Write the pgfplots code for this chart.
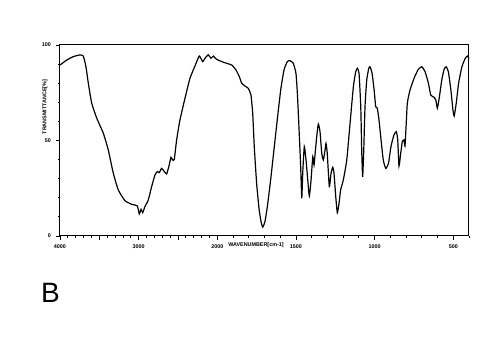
\documentclass[border=0pt]{standalone}
\usepackage{fontspec}
\setmainfont{Liberation Sans}
\usepackage{pgfplots}
\pgfplotsset{compat=1.18}
\begin{document}
\begin{tikzpicture}[x=0.5pt,y=0.5pt]
\path[use as bounding box] (0,0) rectangle (500,353);
\begin{axis}[
  at={(30pt,58.5pt)}, anchor=south west,
  scale only axis, width=204.5pt, height=95.5pt,
  x coord trafo/.code={\pgfmathparse{#1>=2000 ? 1000+(#1-2000)/2 : #1-1000}},
  x dir=reverse,
  xmin=400, xmax=4000, ymin=0, ymax=100,
  xtick={4000,3000,2000,1500,1000,500},
  xticklabels={4000,3000,2000,1500,1000,500},
  extra x ticks={3500,2500}, extra x tick labels={},
  minor xtick={400,500,...,4000},
  ytick={0,50,100}, yticklabels={0,50,100},
  minor ytick={10,20,30,40,60,70,80,90},
  tick pos=left,
  tick align=outside,
  major tick length=2pt, minor tick length=1pt,
  every tick/.style={black, line width=0.4pt},
  axis line style={line width=0.5pt},
  /pgf/number format/assume math mode=true,
  tick label style={font=\fontsize{2.7}{3}\selectfont\bfseries},
  xticklabel style={yshift=1pt},
  yticklabel style={xshift=1pt},
  clip=false,
]
\addplot[black, line width=0.6pt, smooth, tension=0.3] coordinates {
(4000,89.5)(3915,92.1)(3831,93.9)(3746,94.8)(3704,94.2)(3670,88.6)(3640,80)
(3597,69.6)(3534,61.8)(3450,53.9)(3386,45)(3323,33)(3259,24.1)(3174,18.5)
(3089,16.6)(3017,15.7)(2992,11.5)(2970,14)(2949,12.2)(2920,15.4)(2878,18.8)
(2835,25.8)(2793,31.9)(2763,33.7)(2738,33.2)(2708,35.4)(2678,34)(2644,32.5)
(2611,37.2)(2589,41.2)(2568,39.8)(2547,40.1)(2517,50.3)(2475,60.7)(2411,72.1)
(2348,82.5)(2284,89)(2229,94.2)(2186,91.3)(2157,93)(2115,94.9)(2080,93)
(2051,94.2)(2008,92.5)(1972,91.3)(1940,90.4)(1908,89.5)(1881,86.9)(1860,83.4)
(1845,80)(1824,78.5)(1803,77.3)(1786,73.8)(1775,64.2)(1765,46.8)(1750,27.6)
(1735,14.5)(1722,7.5)(1711,4.7)(1697,7.5)(1682,15.3)(1661,29.3)(1640,45)
(1619,60.7)(1597,76.4)(1576,86.9)(1555,91.3)(1538,91.8)(1517,90.4)(1500,85.2)
(1491,74.7)(1481,57.2)(1470,36.3)(1463,19.7)(1457,32.8)(1447,46.8)(1436,39.8)
(1425,29.3)(1415,20.9)(1404,29.3)(1393,41.5)(1385,37.2)(1379,42.4)(1368,52)
(1358,58.6)(1347,54.6)(1336,43.3)(1326,39.8)(1315,45)(1309,48.5)(1301,43.3)
(1288,25.8)(1277,32.8)(1266,36)(1258,32.8)(1247,20.6)(1237,12.2)(1226,17.1)
(1216,24.1)(1199,29.3)(1177,39.8)(1156,59)(1135,78.2)(1120,86)(1110,87.8)
(1099,85.2)(1088,67.7)(1082,45)(1076,31)(1069,45)(1061,67.7)(1050,81.7)
(1037,87.8)(1029,88.6)(1016,85.2)(1003,76.4)(993,67.7)(983,66.9)(972,60.7)
(959,50.3)(945,39.8)(929,35.4)(912,38)(896,46.8)(877,52.9)(862,54.6)(853,50.3)
(845,36.6)(834,43.3)(824,49.4)(813,50.3)(807,47.1)(800,57.2)(792,69.5)
(775,76.4)(749,82.6)(722,87.3)(700,88.6)(679,86)(658,80)(643,73.8)(622,72.6)
(611,71.2)(601,66.9)(588,72.9)(573,81.7)(558,87.3)(545,88.6)(531,86)(515,76.4)
(502,66)(494,62.8)(481,69.5)(466,80)(445,88.6)(424,93)(410,94.2)(400,93)
};
\end{axis}
\node[rotate=90, font=\fontsize{2.7}{3}\selectfont\bfseries] at (45,246) {TRANSMITTANCE[\%]};
\node[font=\fontsize{2.7}{3}\selectfont\bfseries] at (256,108) {WAVENUMBER[cm-1]};
\node[font=\fontsize{14}{16}\selectfont, inner sep=0pt] at (50.5,60) {B};
\end{tikzpicture}
\end{document}
